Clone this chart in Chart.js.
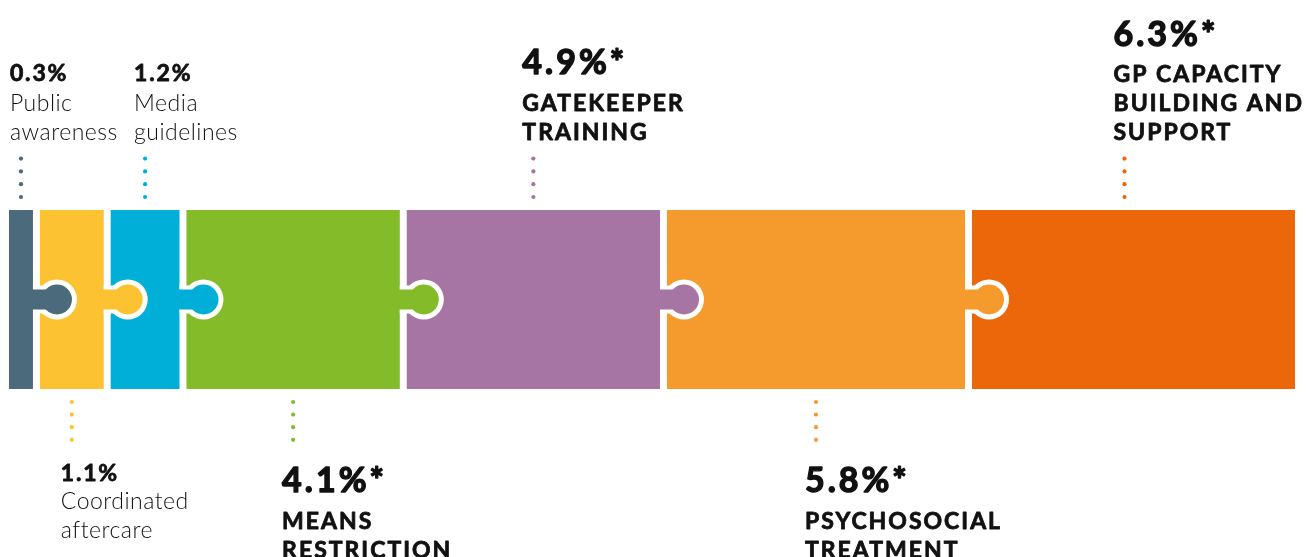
<!DOCTYPE html>
<html>
<head>
<meta charset="utf-8">
<script src="https://cdn.jsdelivr.net/npm/chart.js@4"></script>
<style>
  body { margin: 0; background: #fff; }
  #wrap { width: 1308px; height: 557px; position: relative; }
</style>
</head>
<body>
<div id="wrap"><canvas id="puzzle"></canvas></div>
<script>
// shares of the effect, one puzzle piece each (left to right)
const values = [0.3, 1.1, 1.2, 4.1, 4.9, 5.8, 6.3];
const valueLabels = ['0.3%', '1.1%', '1.2%', '4.1%*', '4.9%*', '5.8%*', '6.3%*'];
const names = [
  ['Public', 'awareness'],
  ['Coordinated', 'aftercare'],
  ['Media', 'guidelines'],
  ['MEANS', 'RESTRICTION'],
  ['GATEKEEPER', 'TRAINING'],
  ['PSYCHOSOCIAL', 'TREATMENT'],
  ['GP CAPACITY', 'BUILDING AND', 'SUPPORT']
];
const colors = ['#4b6a7b', '#fdc232', '#00afd8', '#83bc28', '#a675a4', '#f59b2d', '#eb6709'];

// room left for the joint between two pieces (axis units)
const JOINT = 0.32;
const INFLATE = 4.5;

// text styles: [font, letter spacing, extra stroke]
const STYLES = {
  bigValue: ['bold 34px Lato', '3px', 1.4],
  bigName: ['bold 23px Lato', '2px', 0.8],
  smallValue: ['bold 23px Lato', '1.8px', 0.8],
  smallName: ['300 23px Lato', '0.5px', 0]
};

function buildDatasets() {
  const sets = [];
  values.forEach((v, i) => {
    sets.push({
      label: names[i].join(' '),
      data: [v],
      backgroundColor: colors[i],
      inflateAmount: INFLATE,
      barThickness: 170,
      clip: false,
      piece: i
    });
    if (i < values.length - 1) {
      sets.push({ label: 'joint', data: [JOINT], backgroundColor: 'rgba(0,0,0,0)', inflateAmount: 0, barThickness: 170 });
    }
  });
  return sets;
}

function pieceElements(chart) {
  const out = [];
  chart.data.datasets.forEach((ds, k) => {
    if (ds.piece !== undefined) out[ds.piece] = chart.getDatasetMeta(k).data[0];
  });
  return out;
}

function setStyle(ctx, style) {
  ctx.font = style[0];
  ctx.letterSpacing = style[1];
  ctx.lineWidth = style[2];
}

function writeText(ctx, style, text, x, y) {
  setStyle(ctx, style);
  ctx.fillText(text, x, y);
  if (style[2] > 0) ctx.strokeText(text, x, y);
}

const puzzlePlugin = {
  id: 'puzzle',
  afterDatasetsDraw(chart) {
    const ctx = chart.ctx;
    const els = pieceElements(chart);

    // knobs: each piece pokes into the next one
    els.forEach((el, i) => {
      if (i === els.length - 1) return;
      const right = el.x + INFLATE;
      const cx = right + 24;
      const cy = el.y;
      ctx.save();
      ctx.fillStyle = '#fff';
      ctx.beginPath();
      ctx.arc(cx, cy, 20, 0, Math.PI * 2);
      ctx.fill();
      ctx.fillRect(right, cy - 14, cx - right, 28);
      ctx.fillStyle = colors[i];
      ctx.fillRect(right - 1, cy - 10, cx - right + 1, 20);
      ctx.beginPath();
      ctx.arc(cx, cy, 15, 0, Math.PI * 2);
      ctx.fill();
      ctx.restore();
    });

    // labels with dotted leaders
    els.forEach((el, i) => {
      const top = i % 2 === 0;
      const big = valueLabels[i].includes('*');
      const barTop = el.y - el.height / 2 - INFLATE;
      const barBottom = el.y + el.height / 2 + INFLATE;
      const center = (el.base + el.x) / 2;
      const valueStyle = big ? STYLES.bigValue : STYLES.smallValue;
      const nameStyle = big ? STYLES.bigName : STYLES.smallName;

      ctx.save();
      setStyle(ctx, nameStyle);
      let maxW = Math.max(...names[i].map((n) => ctx.measureText(n).width));
      let left = center - 11;
      if (left + maxW > chart.width - 4) left = chart.width - 4 - maxW;
      const dotX = left + 11;

      ctx.fillStyle = colors[i];
      for (let d = 0; d < 4; d++) {
        const dy = top ? barTop - 13 - d * 12.8 : barBottom + 13 + d * 12.6;
        ctx.beginPath();
        ctx.arc(dotX, dy, 2.1, 0, Math.PI * 2);
        ctx.fill();
      }

      ctx.fillStyle = '#111';
      ctx.strokeStyle = '#111';
      ctx.lineJoin = 'round';
      ctx.textAlign = 'left';
      ctx.textBaseline = 'alphabetic';
      const lh = 28.6;
      const valueGap = big ? 36.5 : 30.2;
      if (top) {
        const lastBase = barTop - 70.5;
        const n = names[i].length;
        names[i].forEach((line, j) => {
          writeText(ctx, nameStyle, line, left, lastBase - (n - 1 - j) * lh);
        });
        writeText(ctx, valueStyle, valueLabels[i], left, lastBase - (n - 1) * lh - valueGap);
      } else {
        const firstBase = barBottom + (big ? 102.7 : 91.7);
        writeText(ctx, valueStyle, valueLabels[i], left, firstBase);
        names[i].forEach((line, j) => {
          writeText(ctx, nameStyle, line, left, firstBase + (big ? 37.6 : 28.6) + j * lh);
        });
      }
      ctx.restore();
    });
  }
};

function initChart(target) {
  const total = values.reduce((a, b) => a + b, 0) + JOINT * (values.length - 1);
  return new Chart(target, {
    type: 'bar',
    data: { labels: ['pieces'], datasets: buildDatasets() },
    options: {
      indexAxis: 'y',
      responsive: true,
      maintainAspectRatio: false,
      animation: false,
      layout: { padding: { left: 13.5, right: 17.5, top: 210, bottom: 168 } },
      scales: {
        x: { stacked: true, display: false, min: 0, max: total },
        y: { stacked: true, display: false }
      },
      plugins: { legend: { display: false }, tooltip: { enabled: false } }
    },
    plugins: [puzzlePlugin]
  });
}

document.addEventListener('DOMContentLoaded', async () => {
  try {
    await Promise.all([
      document.fonts.load('300 23px Lato'),
      document.fonts.load('bold 23px Lato'),
      document.fonts.load('bold 34px Lato')
    ]);
  } catch (e) {
    console.log('font load skipped', e);
  }
  initChart(document.querySelector('#puzzle'));
});
</script>
</body>
</html>
